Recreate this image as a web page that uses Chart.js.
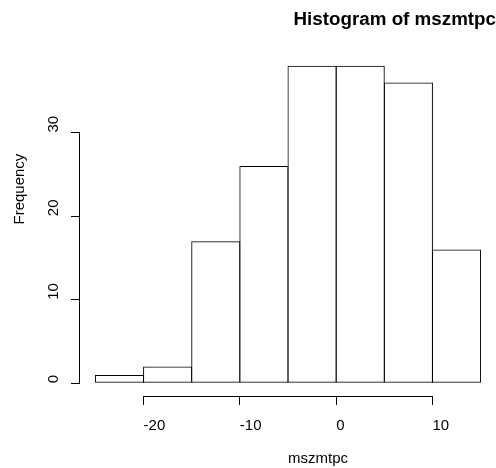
<!DOCTYPE html>
<html>
<head>
<meta charset="utf-8">
<script src="https://cdn.jsdelivr.net/npm/chart.js@4.4.1/dist/chart.umd.min.js"></script>
<style>
  html, body { margin: 0; padding: 0; background: #ffffff; overflow: hidden; }
  #wrap { width: 496px; height: 468px; position: relative; }
</style>
</head>
<body>
<div id="wrap"><canvas id="c" width="496" height="468"></canvas></div>
<script>
// ---- data ----
const binEdges = [-25, -20, -15, -10, -5, 0, 5, 10, 15];
const counts = [1, 2, 17, 26, 38, 38, 36, 16];
const xTickValues = [-20, -10, 0, 10];
const yTickValues = [0, 10, 20, 30];
const mainTitle = 'Histogram of mszmtpc';
const xLabel = 'mszmtpc';
const yLabel = 'Frequency';

// axis ranges as R would extend them (4% each side)
const xLim = [-25, 15];
const yLim = [0, 38];
const ext = (lim) => { const d = (lim[1] - lim[0]) * 0.04; return [lim[0] - d, lim[1] + d]; };
const xUsr = ext(xLim);
const yUsr = ext(yLim);

const points = counts.map((c, i) => ({ x: (binEdges[i] + binEdges[i + 1]) / 2, y: c }));

const FONT = '"Liberation Sans", Arial, Helvetica, sans-serif';

const bgPlugin = {
  id: 'bg',
  beforeDraw(chart) {
    const ctx = chart.ctx;
    ctx.save();
    ctx.fillStyle = '#ffffff';
    ctx.fillRect(0, 0, chart.width, chart.height);
    ctx.restore();
  }
};

const axesPlugin = {
  id: 'rAxes',
  afterDraw(chart) {
    const ctx = chart.ctx;
    const xs = chart.scales.x, ys = chart.scales.y;
    const area = chart.chartArea;
    ctx.save();
    ctx.strokeStyle = '#000000';
    ctx.lineWidth = 1;
    // x axis line between first and last tick
    const yLine = Math.round(area.bottom) + 0.5;
    ctx.beginPath();
    ctx.moveTo(Math.round(xs.getPixelForValue(xTickValues[0]) - 0.5) + 0.5, yLine);
    ctx.lineTo(Math.round(xs.getPixelForValue(xTickValues[xTickValues.length - 1]) - 0.5) + 0.5, yLine);
    ctx.stroke();
    // y axis line between first and last tick
    const xLine = Math.round(area.left) - 0.5;
    ctx.beginPath();
    ctx.moveTo(xLine, Math.round(ys.getPixelForValue(yTickValues[0]) - 0.5) + 0.5);
    ctx.lineTo(xLine, Math.round(ys.getPixelForValue(yTickValues[yTickValues.length - 1]) - 0.5) + 0.5);
    ctx.stroke();

    ctx.fillStyle = '#000000';
    ctx.font = '15px ' + FONT;
    ctx.textAlign = 'left';
    ctx.textBaseline = 'alphabetic';

    // y tick labels, rotated, starting at each tick (as in the reference)
    ys.ticks.forEach((t) => {
      const py = ys.getPixelForValue(t.value);
      ctx.save();
      ctx.translate(area.left - 22, py);
      ctx.rotate(-Math.PI / 2);
      ctx.fillText(String(t.label), 0, 0);
      ctx.restore();
    });

    // axis titles (anchored at the plot centre, as in the reference)
    const xc = xs.getPixelForValue((xUsr[0] + xUsr[1]) / 2);
    ctx.fillText(xLabel, xc, 463);
    const yc = ys.getPixelForValue((yUsr[0] + yUsr[1]) / 2);
    ctx.translate(24, yc);
    ctx.rotate(-Math.PI / 2);
    ctx.fillText(yLabel, 0, 0);
    ctx.restore();
  }
};

new Chart(document.getElementById('c'), {
  type: 'bar',
  data: {
    datasets: [{
      data: points,
      backgroundColor: 'rgba(0,0,0,0)',
      borderColor: '#000000',
      borderWidth: 1,
      borderSkipped: false,
      inflateAmount: 0,
      barPercentage: 1.0203,
      categoryPercentage: 1
    }]
  },
  options: {
    responsive: false,
    animation: false,
    devicePixelRatio: 1,
    layout: { padding: { left: 0, right: 0, top: 0, bottom: 0 } },
    plugins: {
      legend: { display: false },
      tooltip: { enabled: false },
      title: {
        display: true,
        text: mainTitle,
        align: 'end',
        color: '#000000',
        font: { family: FONT, size: 18.8, weight: 'bold', lineHeight: 1.2 },
        padding: { top: 8.5, bottom: 22 }
      }
    },
    scales: {
      x: {
        type: 'linear',
        min: xUsr[0],
        max: xUsr[1],
        offset: false,
        afterBuildTicks: (s) => { s.ticks = xTickValues.map(v => ({ value: v })); },
        afterFit: (s) => { s.height = 72; },
        grid: { drawOnChartArea: false, tickLength: 9, offset: false, color: '#000000', tickColor: '#000000' },
        border: { display: false },
        ticks: {
          autoSkip: false, align: 'start', minRotation: 0, maxRotation: 0, padding: 12,
          color: '#000000', font: { family: FONT, size: 15 }
        }
      },
      y: {
        type: 'linear',
        min: yUsr[0],
        max: yUsr[1],
        afterBuildTicks: (s) => { s.ticks = yTickValues.map(v => ({ value: v })); },
        afterFit: (s) => { s.width = 80; },
        grid: { drawOnChartArea: false, tickLength: 9, color: '#000000', tickColor: '#000000' },
        border: { display: false },
        ticks: { autoSkip: false, display: false, font: { family: FONT, size: 15 } }
      }
    }
  },
  plugins: [bgPlugin, axesPlugin]
});
</script>
</body>
</html>
